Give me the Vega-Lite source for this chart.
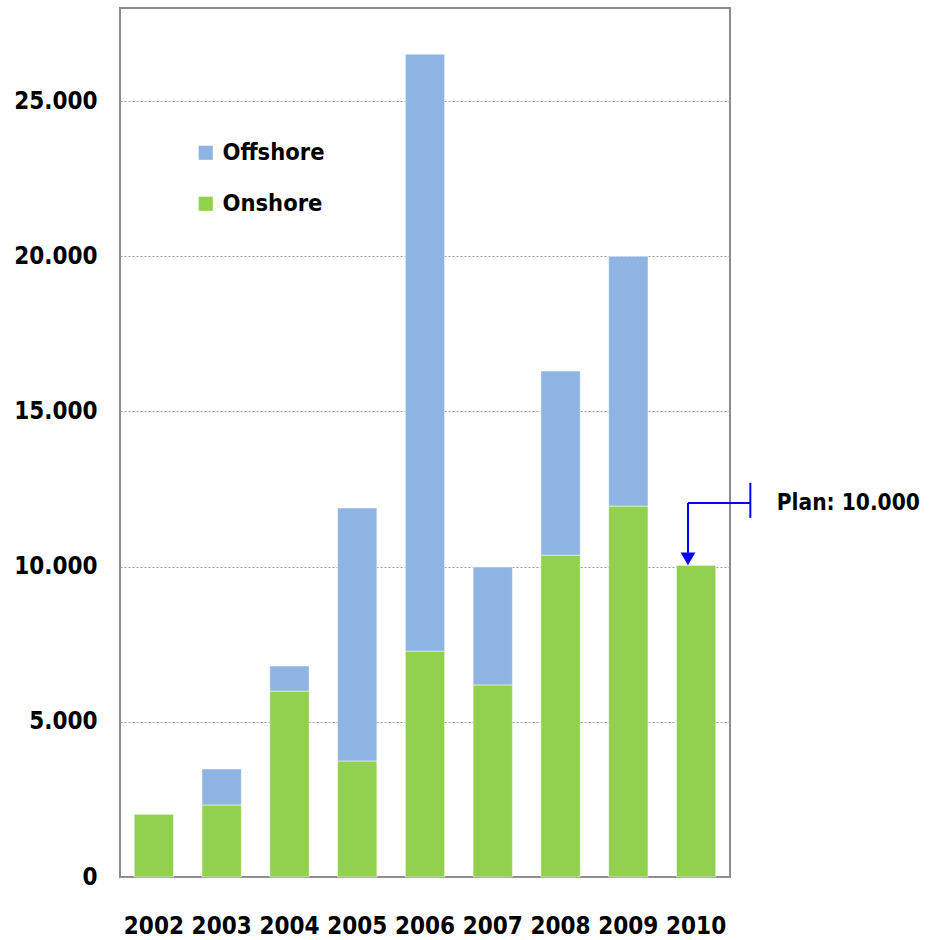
{
  "$schema": "https://vega.github.io/schema/vega-lite/v6.json",
  "width": 610,
  "height": 869,
  "autosize": "none",
  "padding": {"left": 120, "top": 8, "right": 199, "bottom": 63},
  "background": "white",
  "config": {
    "view": {"stroke": "#8c8c8c", "strokeWidth": 2},
    "font": "DejaVu Sans Condensed"
  },
  "layer": [
    {
      "data": {
        "values": [
          {"year": "2002", "series": "Onshore", "value": 2030},
          {"year": "2002", "series": "Offshore", "value": 0},
          {"year": "2003", "series": "Onshore", "value": 2320},
          {"year": "2003", "series": "Offshore", "value": 1160},
          {"year": "2004", "series": "Onshore", "value": 5990},
          {"year": "2004", "series": "Offshore", "value": 810},
          {"year": "2005", "series": "Onshore", "value": 3740},
          {"year": "2005", "series": "Offshore", "value": 8150},
          {"year": "2006", "series": "Onshore", "value": 7280},
          {"year": "2006", "series": "Offshore", "value": 19230},
          {"year": "2007", "series": "Onshore", "value": 6190},
          {"year": "2007", "series": "Offshore", "value": 3800},
          {"year": "2008", "series": "Onshore", "value": 10370},
          {"year": "2008", "series": "Offshore", "value": 5930},
          {"year": "2009", "series": "Onshore", "value": 11950},
          {"year": "2009", "series": "Offshore", "value": 8050},
          {"year": "2010", "series": "Onshore", "value": 10050},
          {"year": "2010", "series": "Offshore", "value": 0}
        ]
      },
      "mark": {"type": "bar", "stroke": "white", "strokeWidth": 0.5},
      "encoding": {
        "x": {
          "field": "year",
          "type": "nominal",
          "scale": {"paddingInner": 0.42, "paddingOuter": 0.21},
          "axis": {
            "title": null,
            "labelAngle": 0,
            "labelFontSize": 24,
            "labelFontWeight": "bold",
            "labelColor": "black",
            "labelPadding": 37,
            "ticks": false,
            "domain": false
          }
        },
        "y": {
          "field": "value",
          "type": "quantitative",
          "stack": "zero",
          "scale": {"domain": [0, 28000], "nice": false},
          "axis": {
            "title": null,
            "values": [0, 5000, 10000, 15000, 20000, 25000],
            "labelExpr": "replace(format(datum.value, ','), ',', '.')",
            "labelFontSize": 24,
            "labelFontWeight": "bold",
            "labelColor": "black",
            "labelPadding": 23,
            "ticks": false,
            "domain": false,
            "grid": true,
            "gridColor": "#999999",
            "gridDash": [2, 2],
            "gridWidth": 1
          }
        },
        "color": {
          "field": "series",
          "type": "nominal",
          "scale": {"domain": ["Offshore", "Onshore"], "range": ["#8DB4E2", "#92D050"]},
          "legend": {
            "title": null,
            "orient": "none",
            "legendX": 74,
            "legendY": 133,
            "symbolType": "square",
            "symbolSize": 200,
            "symbolStrokeWidth": 0,
            "symbolOpacity": 1,
            "labelFontSize": 23.5,
            "labelFontWeight": "bold",
            "labelColor": "black",
            "labelOffset": 5,
            "rowPadding": 26
          }
        },
        "order": {"field": "series", "sort": "descending"}
      }
    },
    {
      "data": {"values": [{"label": "Plan: 10.000", "plan": 10000}]},
      "layer": [
        {
          "mark": {"type": "rule", "color": "#0000FF", "strokeWidth": 2},
          "encoding": {
            "x": {"datum": 9.3, "type": "quantitative", "scale": {"domain": [0, 9], "nice": false, "zero": false}, "axis": null},
            "y": {"datum": 11570, "type": "quantitative"},
            "y2": {"datum": 12700}
          }
        },
        {
          "mark": {"type": "rule", "color": "#0000FF", "strokeWidth": 2},
          "encoding": {
            "x": {"datum": 8.38, "type": "quantitative", "axis": null},
            "x2": {"datum": 9.3},
            "y": {"datum": 12050, "type": "quantitative"}
          }
        },
        {
          "mark": {"type": "rule", "color": "#0000FF", "strokeWidth": 2},
          "encoding": {
            "x": {"datum": 8.38, "type": "quantitative", "axis": null},
            "y": {"datum": 12050, "type": "quantitative"},
            "y2": {"datum": 10450}
          }
        },
        {
          "mark": {"type": "point", "shape": "triangle-down", "filled": true, "color": "#0000FF", "opacity": 1, "size": 220},
          "encoding": {
            "x": {"datum": 8.38, "type": "quantitative", "axis": null},
            "y": {"datum": 10250, "type": "quantitative"}
          }
        },
        {
          "mark": {"type": "text", "align": "left", "baseline": "middle", "fontSize": 22.5, "fontWeight": "bold", "color": "black"},
          "encoding": {
            "x": {"datum": 9.69, "type": "quantitative", "axis": null},
            "y": {"datum": 12050, "type": "quantitative"},
            "text": {"field": "label"}
          }
        }
      ]
    }
  ],
  "resolve": {"scale": {"x": "independent"}}
}
